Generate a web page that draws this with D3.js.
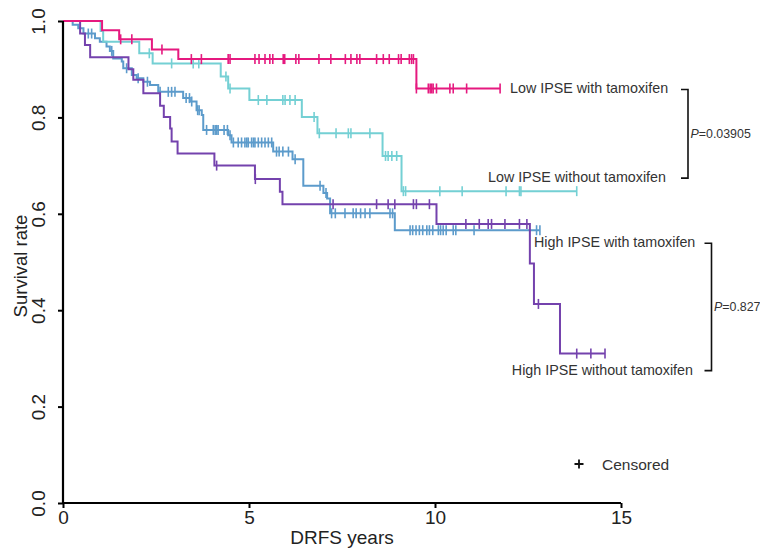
<!DOCTYPE html>
<html>
<head>
<meta charset="utf-8">
<script src="https://cdn.jsdelivr.net/npm/d3@7"></script>
<style>
  body { margin: 0; background: #fff; }
  svg { display: block; font-family: 'Liberation Sans', Arial, sans-serif; }
</style>
</head>
<body>
<svg id="km" width="760" height="548"></svg>
<script>
// Kaplan-Meier step curves: event times (years), survival after each step, end of follow-up, censor times

const lowTamTimes = [0, 1.05, 1.51, 2.39, 3.10, 9.50]
const lowTamSurv = [1, 0.981, 0.962, 0.941, 0.921, 0.860]
const lowTamEnd = 11.75
const lowTamCens = [1.55, 1.85, 2.66, 3.45, 3.72, 4.44, 4.49, 5.16, 5.27, 5.43, 5.56, 5.64,
  5.92, 5.96, 6.26, 6.34, 6.88, 7.20, 7.59, 7.74, 7.90, 7.98, 8.43, 8.61, 8.77, 9.02, 9.09,
  9.31, 9.37, 9.42, 9.50, 9.82, 9.87, 9.91, 9.95, 10.04, 10.40, 10.49, 10.85, 11.75]

const lowNoTamTimes = [0, 1.01, 1.08, 2.05, 2.41, 4.24, 4.44, 5.01, 6.42, 6.84, 8.59, 9.10]
const lowNoTamSurv = [1, 0.979, 0.957, 0.933, 0.912, 0.885, 0.860, 0.836, 0.801, 0.767, 0.720, 0.647]
const lowNoTamEnd = 13.81
const lowNoTamCens = [2.32, 2.92, 3.50, 3.65, 4.38, 4.49, 5.25, 5.48, 5.91, 5.97, 6.10, 6.24,
  6.75, 6.89, 7.34, 7.67, 7.74, 8.25, 8.67, 8.74, 8.84, 8.97, 9.15, 9.21, 10.13, 10.73,
  11.91, 12.27, 12.31, 13.81]

const highTamTimes = [0, 0.26, 0.41, 0.55, 0.86, 0.99, 1.17, 1.26, 1.35, 1.58, 1.62, 1.85,
  1.98, 2.16, 2.34, 2.56, 3.23, 3.41, 3.59, 3.73, 3.77, 4.44, 4.53, 5.65, 6.17, 6.46, 7.00,
  7.10, 7.18, 8.92]
const highTamSurv = [1, 0.992, 0.985, 0.974, 0.964, 0.957, 0.947, 0.938, 0.922, 0.916, 0.902,
  0.888, 0.881, 0.874, 0.867, 0.853, 0.840, 0.833, 0.815, 0.805, 0.774, 0.763, 0.748, 0.729,
  0.713, 0.658, 0.643, 0.632, 0.601, 0.566]
const highTamEnd = 12.82
const highTamCens = [0.68, 0.77, 1.31, 1.71, 2.02, 2.27, 2.61, 2.83, 2.92, 3.01, 3.31, 3.40,
  3.46, 3.62, 3.66, 3.86, 4.04, 4.09, 4.13, 4.17, 4.33, 4.42, 4.49, 4.58, 4.71, 4.80, 4.89,
  4.94, 4.98, 5.07, 5.12, 5.16, 5.25, 5.34, 5.43, 5.52, 5.61, 5.74, 5.81, 5.91, 6.06, 6.24,
  6.91, 7.07, 7.22, 7.32, 7.58, 7.80, 7.88, 8.00, 8.12, 8.25, 8.79, 8.86, 9.33, 9.40, 9.49,
  9.58, 9.67, 9.78, 9.85, 9.94, 10.09, 10.15, 10.22, 10.30, 10.49, 10.56, 11.05, 12.73, 12.82]

const highNoTamTimes = [0, 0.46, 0.59, 0.73, 1.76, 1.89, 2.16, 2.61, 2.71, 2.88, 2.92, 3.08,
  4.07, 5.16, 5.83, 5.90, 10.04, 12.55, 12.66, 13.36]
const highNoTamSurv = [1, 0.974, 0.950, 0.925, 0.900, 0.878, 0.850, 0.824, 0.801, 0.777, 0.750,
  0.725, 0.700, 0.672, 0.646, 0.620, 0.579, 0.497, 0.413, 0.310]
const highNoTamEnd = 14.57
const highNoTamCens = [4.13, 5.17, 7.26, 8.43, 8.74, 8.92, 9.42, 9.50, 9.85, 10.83, 11.19,
  11.43, 11.52, 11.88, 12.27, 12.47, 12.78, 13.81, 14.19, 14.57]

const groupNames = ['Low IPSE with tamoxifen', 'Low IPSE without tamoxifen',
  'High IPSE with tamoxifen', 'High IPSE without tamoxifen']
const groupColors = ['#e5197f', '#74d0d4', '#5c9bcb', '#7442ad']
const pValues = ['0.03905', '0.827']
const xTicks = [0, 5, 10, 15]
const yTicks = [0, 0.2, 0.4, 0.6, 0.8, 1.0]

const groups = [
  { times: highTamTimes, surv: highTamSurv, end: highTamEnd, cens: highTamCens },
  { times: highNoTamTimes, surv: highNoTamSurv, end: highNoTamEnd, cens: highNoTamCens },
  { times: lowNoTamTimes, surv: lowNoTamSurv, end: lowNoTamEnd, cens: lowNoTamCens },
  { times: lowTamTimes, surv: lowTamSurv, end: lowTamEnd, cens: lowTamCens }
]
groups[0].color = groupColors[2]
groups[1].color = groupColors[3]
groups[2].color = groupColors[1]
groups[3].color = groupColors[0]

const svg = d3.select('#km')
const x = d3.scaleLinear().domain([0, 15]).range([63, 621])
const y = d3.scaleLinear().domain([0, 1]).range([503, 21])

function survAt(g, t) {
  let s = g.surv[0]
  g.times.forEach((tt, i) => { if (tt <= t) s = g.surv[i] })
  return s
}

const line = d3.line()
  .x((d) => x(d[0]))
  .y((d) => y(d[1]))
  .curve(d3.curveStepAfter)

groups.forEach((g) => {
  const pts = g.times.map((t, i) => [t, g.surv[i]])
  pts.push([g.end, g.surv[g.surv.length - 1]])
  svg.append('path')
    .datum(pts)
    .attr('d', line)
    .attr('fill', 'none')
    .attr('stroke', g.color)
    .attr('stroke-width', 2)

  svg.append('g')
    .selectAll('line')
    .data(g.cens)
    .join('line')
    .attr('x1', (d) => x(d))
    .attr('x2', (d) => x(d))
    .attr('y1', (d) => y(survAt(g, d)) - 5)
    .attr('y2', (d) => y(survAt(g, d)) + 5)
    .attr('stroke', g.color)
    .attr('stroke-width', 1.6)
})

// axes
const yAxis = svg.append('g')
  .attr('transform', `translate(${x(0)},0)`)
  .call(d3.axisLeft(y).tickValues(yTicks).tickSize(5).tickFormat(d3.format('.1f')))
yAxis.select('.domain').attr('d', `M0,${y(0)}V${y(1)}`).attr('stroke-width', 2.2)
yAxis.selectAll('.tick line').attr('stroke-width', 2)
yAxis.selectAll('.tick text')
  .attr('transform', 'rotate(-90)')
  .attr('x', 0)
  .attr('y', -18)
  .attr('dy', 0)
  .attr('text-anchor', 'middle')
  .attr('font-size', 19)
  .attr('fill', '#222')

const xAxis = svg.append('g')
  .attr('transform', `translate(0,${y(0)})`)
  .call(d3.axisBottom(x).tickValues(xTicks).tickSize(5))
xAxis.select('.domain').attr('d', `M${x(0)},0H${x(15)}`).attr('stroke-width', 2.2)
xAxis.selectAll('.tick line').attr('stroke-width', 2)
xAxis.selectAll('.tick text')
  .attr('y', 8)
  .attr('font-size', 19)
  .attr('fill', '#222')

svg.append('text')
  .attr('transform', `translate(27,${(y(0) + y(1)) / 2 + 4}) rotate(-90)`)
  .attr('text-anchor', 'middle')
  .attr('font-size', 18.5)
  .attr('fill', '#222')
  .text('Survival rate')

svg.append('text')
  .attr('x', (x(0) + x(15)) / 2)
  .attr('y', 544)
  .attr('text-anchor', 'middle')
  .attr('font-size', 19)
  .attr('fill', '#222')
  .text('DRFS years')

// group labels and p-value brackets
const labelPos = [
  { x: 510, y: y(lowTamSurv[lowTamSurv.length - 1]) + 5 },
  { x: 666, y: y(lowNoTamSurv[lowNoTamSurv.length - 1]) - 9, anchor: 'end' },
  { x: 534, y: y(highTamSurv[highTamSurv.length - 1]) + 17 },
  { x: 693, y: y(highNoTamSurv[highNoTamSurv.length - 1]) + 21, anchor: 'end' }
]
svg.append('g')
  .selectAll('text')
  .data(groupNames)
  .join('text')
  .attr('x', (d, i) => labelPos[i].x)
  .attr('y', (d, i) => labelPos[i].y)
  .attr('text-anchor', (d, i) => labelPos[i].anchor || 'start')
  .attr('font-size', 14.3)
  .attr('fill', '#333')
  .text((d) => d)

const brackets = [
  { x: 688, y1: labelPos[0].y - 4, y2: labelPos[1].y - 4 },
  { x: 711.5, y1: labelPos[2].y - 4, y2: labelPos[3].y - 4 }
]
brackets.forEach((b, i) => {
  svg.append('path')
    .attr('d', `M${b.x - 7},${b.y1}H${b.x}V${b.y2}H${b.x - 7}`)
    .attr('fill', 'none')
    .attr('stroke', '#111')
    .attr('stroke-width', 1.6)
  const t = svg.append('text')
    .attr('x', b.x + 2.5)
    .attr('y', (b.y1 + b.y2) / 2 + 4)
    .attr('font-size', 12.4)
    .attr('fill', '#333')
  t.append('tspan').attr('font-style', 'italic').text('P')
  t.append('tspan').text('=' + pValues[i])
})

// censor legend
const lg = svg.append('g').attr('transform', 'translate(579,464)')
lg.append('path').attr('d', 'M-4.5,0H4.5M0,-4.5V4.5').attr('stroke', '#111').attr('stroke-width', 1.8)
lg.append('text').attr('x', 23).attr('y', 5.5).attr('font-size', 15.5).attr('fill', '#333').text('Censored')
</script>
</body>
</html>
